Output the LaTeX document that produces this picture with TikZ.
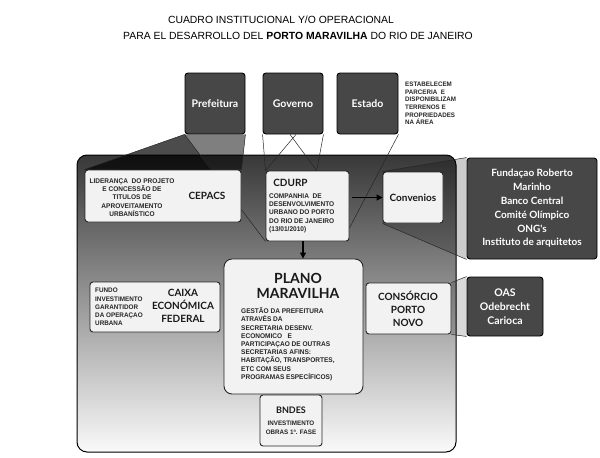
\documentclass[tikz,border=0pt]{standalone}
\usepackage{fontspec}
\setmainfont{Liberation Sans}
\newfontfamily\gill{Lato}
\newfontfamily\narrowf{Liberation Sans}[FakeStretch=0.96]
\usetikzlibrary{arrows.meta,calc}
\pgfdeclarelayer{back}
\pgfdeclarelayer{mid}
\pgfsetlayers{back,mid,main}
\definecolor{boxdark}{HTML}{474747}
\definecolor{boxlight}{HTML}{F2F2F2}
\definecolor{paneltop}{HTML}{383838}
\definecolor{panelmid}{HTML}{989898}
\definecolor{panelbot}{HTML}{FAFAFA}
\begin{document}
\begin{tikzpicture}[x=1pt,y=-1pt,
  darkbox/.style={draw=black, line width=0.9pt, fill=boxdark, rounded corners=3pt, inner sep=0pt, text=white, font=\gill\bfseries\fontsize{10.5}{13}\selectfont, align=center},
  lightbox/.style={draw=black!85, line width=0.9pt, fill=boxlight, rounded corners=3pt, inner sep=0pt},
  lbl/.style={font=\gill\bfseries\fontsize{10}{12.8}\selectfont, align=center, inner sep=0pt, text=black!90},
  small/.style={font=\narrowf\bfseries\fontsize{6.8}{8.2}\selectfont, align=left, inner sep=0pt, text=black!85},
  conn/.style={draw=black!85, line width=0.5pt},
  arr/.style={draw=black, line width=1.1pt, -{Triangle[length=6pt,width=6pt]}},
  band/.style={fill=black, fill opacity=0.2},
]
\useasboundingbox (0,0) rectangle (600,458);

% title
\node[inner sep=0, font=\fontsize{10.4}{12}\selectfont] (t1) at (281,20) {CUADRO INSTITUCIONAL Y/O OPERACIONAL};
\node[inner sep=0, font=\fontsize{10.4}{12}\selectfont] (t2) at (298,36) {PARA EL DESARROLLO DEL \textbf{PORTO MARAVILHA} DO RIO DE JANEIRO};

% panel
\begin{pgfonlayer}{back}
\node[draw=black, line width=1pt, rounded corners=10pt, top color=paneltop, middle color=panelmid, bottom color=panelbot,
      minimum width=379pt, minimum height=297pt, inner sep=0] (panel) at (266.5,303.5) {};
\end{pgfonlayer}

% top boxes
\node[darkbox, minimum width=60pt, minimum height=61pt] (pref) at (215,103.5) {Prefeitura};
\node[darkbox, minimum width=60pt, minimum height=61pt] (gov) at (293,103.5) {Governo};
\node[darkbox, minimum width=61pt, minimum height=61pt] (est) at (367.5,103.5) {Estado};
\node[small, font=\narrowf\bfseries\fontsize{6.5}{7.6}\selectfont, anchor=north west] (estx) at (405,82)
  {ESTABELECEM\\PARCERIA\ \ E\\DISPONIBILIZAM\\TERRENOS E\\PROPRIEDADES\\NA ÁREA};

% CEPACS
\node[lightbox, minimum width=156pt, minimum height=52pt] (cep) at (163,196) {};
\node[small, align=center, anchor=north] (cepx) at (132,178.5)
  {LIDERANÇA\ \ DO PROJETO\\E CONCESSÃO DE\\TITULOS DE\\APROVEITAMENTO\\URBANÍSTICO};
\node[lbl] (cepl) at (207,196) {CEPACS};

% CDURP
\node[lightbox, minimum width=83pt, minimum height=70pt] (cdurp) at (307.5,206) {};
\node[lbl] (cdurpl) at (290.5,182.5) {CDURP};
\node[small, anchor=north west] (cdurpx) at (269,193.5)
  {COMPANHIA\ \ DE\\DESENVOLVIMENTO\\URBANO DO PORTO\\DO RIO DE JANEIRO\\(13/01/2010)};

% Convenios
\node[lightbox, minimum width=60pt, minimum height=51pt, font=\gill\bfseries\fontsize{10}{12}\selectfont, text=black!90] (conv) at (413,197.5) {Convenios};
\node[darkbox, minimum width=130pt, minimum height=101pt, font=\gill\bfseries\fontsize{10}{13.8}\selectfont] (fund) at (532,208.5)
  {Fundaçao Roberto\\Marinho\\Banco Central\\Comité Olímpico\\ONG's\\Instituto de arquitetos};

% Caixa
\node[lightbox, minimum width=130pt, minimum height=50pt] (caixa) at (155,307) {};
\node[small, anchor=north west, font=\narrowf\bfseries\fontsize{6.6}{8.2}\selectfont] (caixax) at (95,288)
  {FUNDO\\INVESTIMENTO\\GARANTIDOR\\DA OPERAÇAO\\URBANA};
\node[lbl] (caixal) at (183,306) {CAIXA\\ECONÓMICA\\FEDERAL};

% Plano
\node[lightbox, rounded corners=8pt, minimum width=139pt, minimum height=135pt] (plano) at (293.5,326.5) {};
\node[lbl, font=\gill\bfseries\fontsize{14}{15}\selectfont] (planol) at (298,285.5) {PLANO\\MARAVILHA};
\node[small, anchor=north west] (planox) at (241,307.5)
  {GESTÃO DA PREFEITURA\\ATRAVÉS DA\\SECRETARIA DESENV.\\ECONOMICO\ \ \ E\\PARTICIPAÇAO DE OUTRAS\\SECRETARIAS AFINS:\\HABITAÇÃO, TRANSPORTES,\\ETC COM SEUS\\PROGRAMAS ESPECÍFICOS)};

% Consorcio
\node[lightbox, minimum width=85pt, minimum height=51pt] (cons) at (408.5,308.5) {};
\node[lbl, font=\gill\bfseries\fontsize{10}{13}\selectfont] (consl) at (408,308.5) {CONSÓRCIO\\PORTO\\NOVO};
\node[darkbox, minimum width=76pt, minimum height=59pt, font=\gill\bfseries\fontsize{10.5}{14}\selectfont] (oas) at (505,306.5) {OAS\\Odebrecht\\Carioca};

% BNDES
\node[lightbox, minimum width=62pt, minimum height=51pt] (bndes) at (291,420.5) {};
\node[lbl, font=\gill\bfseries\fontsize{9}{10}\selectfont] (bndesl) at (291,410) {BNDES};
\node[small, align=center, anchor=north, font=\narrowf\bfseries\fontsize{6.5}{8.6}\selectfont] (bndesx) at (291,421)
  {INVESTIMENTO\\OBRAS 1ª. FASE};

% connectors (behind boxes)
\begin{pgfonlayer}{mid}
\coordinate (pmid) at ($(pref.south west)!0.336!(cdurp.south west)$);
\fill[black, fill opacity=0.5] (pref.south west) -- (pref.south east) -- (cep.north east) -- (cep.north west) -- cycle;
\fill[black, fill opacity=0.4] (pref.south west) -- (pmid) -- (cep.north west) -- cycle;
\draw[conn] (pref.south west) -- (cep.north west);
\draw[conn] (pref.south east) -- (cep.north east);
\draw[conn] (pref.south west) -- (cdurp.south west);

\coordinate (gR) at ($(cdurp.north west)!0.61!(cdurp.north east)$);
\draw[conn] (gov.south west) -- (cdurp.north west);
\draw[conn] (gov.south east) -- (gR);
\draw[conn] ([xshift=-3pt]gov.south) -- (gR);
\draw[conn] ([xshift=3pt]gov.south) -- (cdurp.north west);

\coordinate (eR) at ($(cdurp.north east)!0.81!(cdurp.south east)$);
\draw[conn] (est.south east) -- (eR);

\fill[band] (conv.north west) -- (fund.north west) -- (fund.south west) -- (conv.south west) -- cycle;
\draw[conn] (conv.north west) -- (fund.north west);
\draw[conn] (conv.south west) -- (fund.south west);

\fill[band, fill opacity=0.15] (cons.north east) -- (oas.north west) -- (oas.south west) -- (cons.south east) -- cycle;
\draw[conn] (cons.north east) -- (oas.north west);
\draw[conn] (cons.south east) -- (oas.south west);
\end{pgfonlayer}

% arrows
\draw[arr] ([xshift=3pt]cdurp.east |- conv.west) -- (conv.west);
\draw[arr] ([xshift=-4.5pt]cdurp.south) -- ([xshift=-4.5pt]cdurp.south |- plano.north);
\end{tikzpicture}
\end{document}
